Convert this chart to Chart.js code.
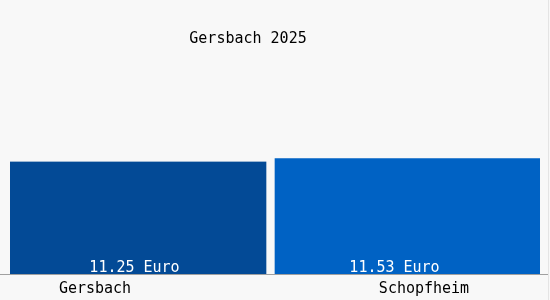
<!DOCTYPE html>
<html>
<head>
<meta charset="utf-8">
<script src="https://cdn.jsdelivr.net/npm/chart.js@4/dist/chart.umd.min.js"></script>
<style>
  html, body { margin: 0; padding: 0; background: #f8f8f8; }
  #wrap { width: 550px; height: 300px; }
</style>
</head>
<body>
<div id="wrap"><canvas id="chart"></canvas></div>
<script>
const categories = ['Gersbach', 'Schopfheim'];
const values = [11.25, 11.53];
const valueLabels = ['11.25 Euro', '11.53 Euro'];
const chartTitle = 'Gersbach 2025';

const barColors = ['#034a96', '#0062c4'];
const bg = '#f8f8f8';
const font = '15px "DejaVu Sans Mono", monospace';
// label nudges relative to the bar centre
const valueShift = [-8, -13];
const catShift = [-47.5, 16.5];

const overlay = {
  id: 'overlay',
  beforeDraw(chart) {
    const ctx = chart.ctx;
    ctx.save();
    ctx.fillStyle = bg;
    ctx.fillRect(0, 0, chart.width, chart.height);
    ctx.restore();
  },
  afterDraw(chart) {
    const ctx = chart.ctx;
    const area = chart.chartArea;
    const bars = chart.getDatasetMeta(0).data;
    ctx.save();
    ctx.font = font;
    ctx.textAlign = 'center';
    ctx.textBaseline = 'alphabetic';

    ctx.fillStyle = '#000';
    ctx.fillText(chartTitle, 248, 43);

    ctx.strokeStyle = '#a0a0a0';
    ctx.lineWidth = 1;
    ctx.beginPath();
    ctx.moveTo(0, Math.round(area.bottom) + 0.5);
    ctx.lineTo(548, Math.round(area.bottom) + 0.5);
    ctx.stroke();

    ctx.strokeStyle = '#e4e4e4';
    ctx.beginPath();
    ctx.moveTo(548.5, 0);
    ctx.lineTo(548.5, 300);
    ctx.stroke();

    bars.forEach((bar, i) => {
      ctx.fillStyle = '#fff';
      ctx.fillText(valueLabels[i], bar.x + valueShift[i], area.bottom - 2);
      ctx.fillStyle = '#000';
      ctx.fillText(categories[i], bar.x + catShift[i], 293);
    });
    ctx.restore();
  }
};

new Chart(document.getElementById('chart'), {
  type: 'bar',
  data: {
    labels: categories,
    datasets: [{
      data: values,
      backgroundColor: barColors,
      // the gap between the bars sits on the right of the first one
      borderColor: bg,
      borderWidth: [{ right: 9, left: 0, top: 0, bottom: 0 }, 0],
      borderSkipped: false,
      barPercentage: 1,
      categoryPercentage: 1
    }]
  },
  options: {
    responsive: true,
    maintainAspectRatio: false,
    animation: false,
    layout: { padding: { left: 10, right: 10, top: 74, bottom: 26 } },
    plugins: { legend: { display: false }, tooltip: { enabled: false } },
    scales: {
      x: { display: false },
      y: { display: false, min: 0, max: 20 }
    }
  },
  plugins: [overlay]
});
</script>
</body>
</html>
